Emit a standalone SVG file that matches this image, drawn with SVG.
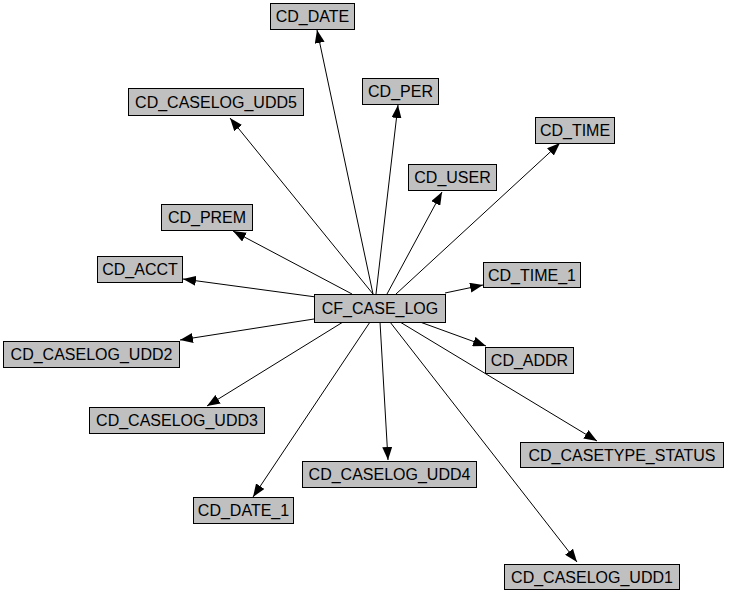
<svg xmlns="http://www.w3.org/2000/svg" width="731" height="595" viewBox="0 0 731 595">
<style>
.n rect{fill:#c0c0c0;stroke:#000;stroke-width:1}
.n text{font-family:"Liberation Sans",Arial,sans-serif;font-size:16px;fill:#000;text-anchor:middle}
.e line{stroke:#000;stroke-width:1;marker-end:url(#ah)}
</style>
<defs>
<marker id="ah" markerUnits="userSpaceOnUse" markerWidth="14" markerHeight="10" refX="13" refY="5" orient="auto">
<path d="M0,0 L13,5 L0,10 Z" fill="#000"/>
</marker>
</defs>
<rect width="731" height="595" fill="#fff"/>
<g id="edges" class="e">
<line x1="373" y1="294" x2="317" y2="30"/>
<line x1="376" y1="294" x2="398" y2="105"/>
<line x1="373" y1="294" x2="230" y2="118"/>
<line x1="352" y1="294" x2="233" y2="231"/>
<line x1="316" y1="297" x2="183" y2="279"/>
<line x1="314" y1="319" x2="180" y2="340"/>
<line x1="343" y1="322" x2="207" y2="406"/>
<line x1="370" y1="322" x2="253" y2="497"/>
<line x1="380" y1="322" x2="388" y2="460"/>
<line x1="390" y1="322" x2="577" y2="562"/>
<line x1="400" y1="322" x2="597" y2="441"/>
<line x1="420" y1="322" x2="486" y2="346"/>
<line x1="445" y1="293" x2="483" y2="285"/>
<line x1="396" y1="294" x2="560" y2="143"/>
<line x1="387" y1="294" x2="442" y2="192"/>
</g>
<g id="CF_CASE_LOG" class="n"><rect x="314.5" y="294.5" width="131" height="28"/><text x="380" y="314">CF_CASE_LOG</text></g>
<g id="CD_DATE" class="n"><rect x="270.5" y="3.5" width="84" height="26"/><text x="312.5" y="22">CD_DATE</text></g>
<g id="CD_PER" class="n"><rect x="362.5" y="78.5" width="76" height="26"/><text x="400.5" y="97">CD_PER</text></g>
<g id="CD_CASELOG_UDD5" class="n"><rect x="128.5" y="88.5" width="175" height="27"/><text x="216" y="108">CD_CASELOG_UDD5</text></g>
<g id="CD_TIME" class="n"><rect x="535.5" y="117.5" width="79" height="26"/><text x="575" y="136">CD_TIME</text></g>
<g id="CD_USER" class="n"><rect x="408.5" y="164.5" width="88" height="26"/><text x="452.5" y="183">CD_USER</text></g>
<g id="CD_PREM" class="n"><rect x="161.5" y="204.5" width="91" height="26"/><text x="207" y="223">CD_PREM</text></g>
<g id="CD_ACCT" class="n"><rect x="97.5" y="256.5" width="85" height="26"/><text x="140" y="275">CD_ACCT</text></g>
<g id="CD_TIME_1" class="n"><rect x="483.5" y="262.5" width="97" height="25"/><text x="532" y="281">CD_TIME_1</text></g>
<g id="CD_CASELOG_UDD2" class="n"><rect x="3.5" y="341.5" width="176" height="26"/><text x="91.5" y="360">CD_CASELOG_UDD2</text></g>
<g id="CD_ADDR" class="n"><rect x="485.5" y="347.5" width="88" height="26"/><text x="529.5" y="366">CD_ADDR</text></g>
<g id="CD_CASELOG_UDD3" class="n"><rect x="89.5" y="407.5" width="175" height="26"/><text x="177" y="426">CD_CASELOG_UDD3</text></g>
<g id="CD_CASETYPE_STATUS" class="n"><rect x="520.5" y="442.5" width="203" height="25"/><text x="622" y="461">CD_CASETYPE_STATUS</text></g>
<g id="CD_CASELOG_UDD4" class="n"><rect x="302.5" y="461.5" width="174" height="26"/><text x="389.5" y="480">CD_CASELOG_UDD4</text></g>
<g id="CD_DATE_1" class="n"><rect x="193.5" y="497.5" width="100" height="26"/><text x="243.5" y="516">CD_DATE_1</text></g>
<g id="CD_CASELOG_UDD1" class="n"><rect x="504.5" y="564.5" width="175" height="25"/><text x="592" y="583">CD_CASELOG_UDD1</text></g>
</svg>
